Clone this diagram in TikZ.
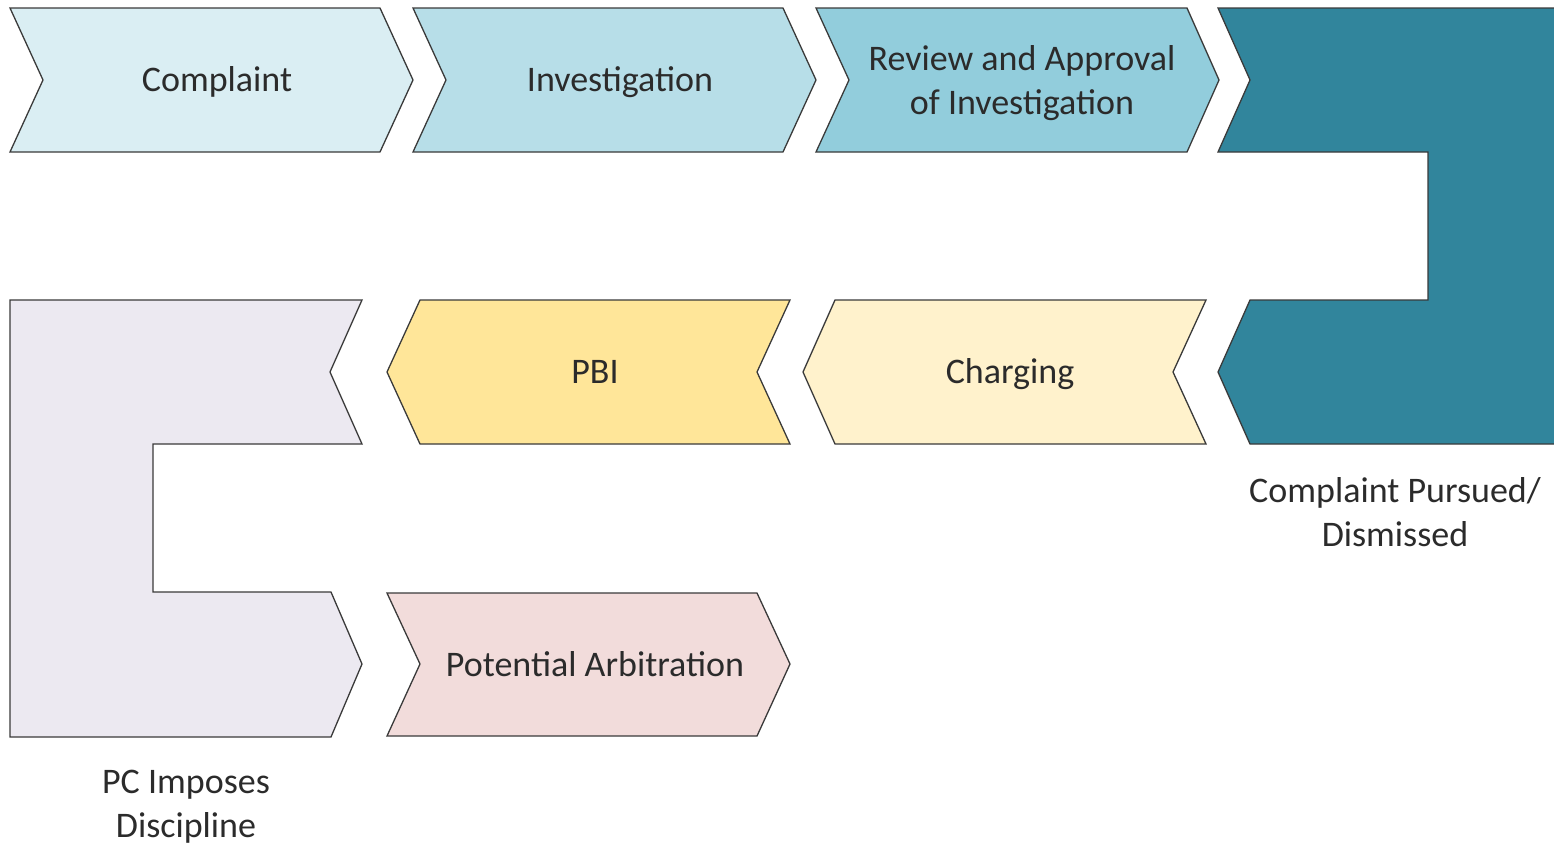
\documentclass[tikz,border=0pt]{standalone}
\usepackage{fontspec}
\setmainfont{Carlito}
\definecolor{cA}{HTML}{DAEEF3}
\definecolor{cB}{HTML}{B7DEE8}
\definecolor{cC}{HTML}{92CDDC}
\definecolor{cD}{HTML}{31859C}
\definecolor{cE}{HTML}{FFF2CC}
\definecolor{cF}{HTML}{FFE699}
\definecolor{cG}{HTML}{F2DCDB}
\definecolor{cH}{HTML}{ECE9F1}
\definecolor{edge}{HTML}{3A3A3A}
\definecolor{txt}{HTML}{2B2B2B}
\begin{document}
\begin{tikzpicture}[x=1bp,y=-1bp,
  shp/.style={draw=edge,line width=1.3bp,line join=miter},
  lbl/.style={text=txt,align=center,inner sep=0pt,font=\fontsize{36bp}{44bp}\selectfont},
  one/.style={lbl,text height=30bp,text depth=8bp}]
\useasboundingbox (0,0) rectangle (1554,845);
% top row
\filldraw[shp,fill=cA] (10,8) -- (380,8) -- (413,80) -- (380,152) -- (10,152) -- (43,80) -- cycle;
\filldraw[shp,fill=cB] (413,8) -- (783,8) -- (816,80) -- (783,152) -- (413,152) -- (446,80) -- cycle;
\filldraw[shp,fill=cC] (816,8) -- (1187,8) -- (1219,80) -- (1187,152) -- (816,152) -- (849,80) -- cycle;
% teal U-turn
\filldraw[shp,fill=cD] (1218,8) -- (1570,8) -- (1570,444) -- (1250,444) -- (1218,372) -- (1250,300) -- (1428,300) -- (1428,152) -- (1218,152) -- (1250,80) -- cycle;
% middle row
\filldraw[shp,fill=cE] (835,300) -- (1206,300) -- (1173,372) -- (1206,444) -- (835,444) -- (803,372) -- cycle;
\filldraw[shp,fill=cF] (420,300) -- (790,300) -- (757,372) -- (790,444) -- (420,444) -- (387,372) -- cycle;
% lavender U-turn
\filldraw[shp,fill=cH] (10,300) -- (362,300) -- (330,372) -- (362,444) -- (153,444) -- (153,592) -- (331,592) -- (362,664) -- (331,737) -- (10,737) -- cycle;
% bottom row
\filldraw[shp,fill=cG] (387,593) -- (757,593) -- (790,664) -- (757,736) -- (387,736) -- (420,664) -- cycle;
% labels
\node[one] (complaint) at (217,80) {Complaint};
\node[one] (investigation) at (620,80) {Investigation};
\node[lbl] (review) at (1022,83) {Review and Approval\\of Investigation};
\node[one] (charging) at (1010,372) {Charging};
\node[one] (pbi) at (595,372) {PBI};
\node[one] (arbitration) at (595,665) {Potential Arbitration};
\node[lbl] (pursued) at (1395,512) {Complaint Pursued/\\Dismissed};
\node[lbl] (pc) at (186,807) {PC Imposes\\Discipline};
\end{tikzpicture}
\end{document}
